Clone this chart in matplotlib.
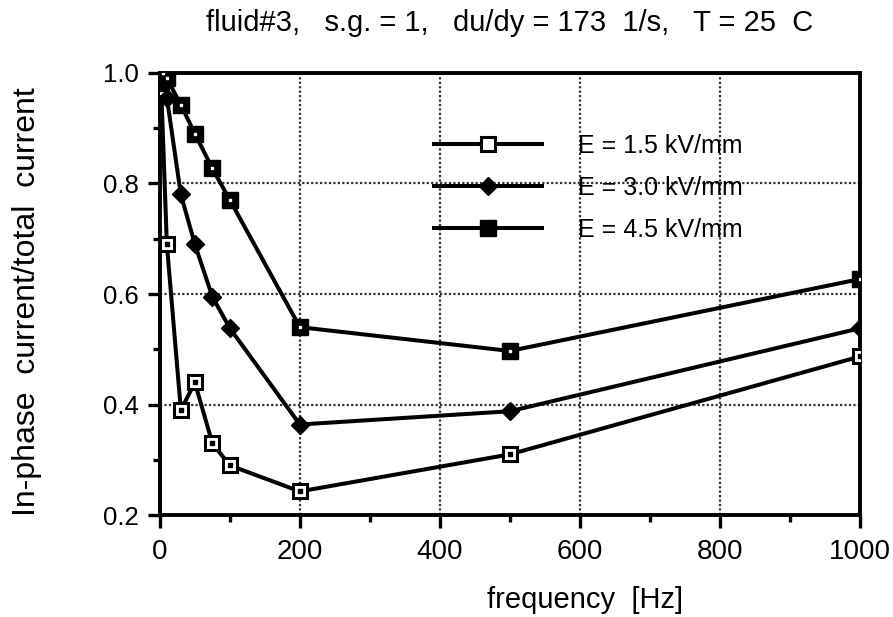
import matplotlib
matplotlib.use("Agg")
import matplotlib.pyplot as plt
from matplotlib.lines import Line2D
from matplotlib.ticker import MultipleLocator, FuncFormatter

plt.rcParams['font.family'] = ['Liberation Sans', 'DejaVu Sans']

# data
freq_15 = [2, 10, 30, 50, 75, 100, 200, 500, 1000]
ratio_15 = [0.97, 0.69, 0.39, 0.44, 0.33, 0.29, 0.243, 0.31, 0.487]
freq_30 = [5, 10, 30, 50, 75, 100, 200, 500, 1000]
ratio_30 = [1.0, 0.955, 0.78, 0.69, 0.595, 0.538, 0.364, 0.388, 0.538]
freq_45 = [5, 10, 30, 50, 75, 100, 200, 500, 1000]
ratio_45 = [1.0, 0.99, 0.942, 0.89, 0.827, 0.77, 0.54, 0.497, 0.627]
labels = ["E = 1.5 kV/mm", "E = 3.0 kV/mm", "E = 4.5 kV/mm"]
title = "fluid#3,   s.g. = 1,   du/dy = 173  1/s,   T = 25  C"
xlabel = "frequency  [Hz]"
ylabel = "In-phase  current/total  current"

fig = plt.figure(figsize=(8.93, 6.17), dpi=100)
ax = fig.add_axes([0.179, 0.165, 0.784, 0.717])

lw = 2.9
ax.plot(freq_15, ratio_15, color='black', lw=lw, marker='s', ms=10, mfc='white',
        mec='black', mew=2.2, zorder=3)
ax.plot(freq_15, ratio_15, ls='none', marker='s', ms=2.5, color='black', zorder=4)
ax.plot(freq_30, ratio_30, color='black', lw=lw, marker='D', ms=9, mfc='black',
        mec='black', zorder=3)
ax.plot(freq_45, ratio_45, color='black', lw=lw, marker='s', ms=11, mfc='black',
        mec='black', zorder=3)
ax.plot(freq_45, ratio_45, ls='none', marker='s', ms=2, color='white', zorder=4)

ax.set_xlim(0, 1000)
ax.set_ylim(0.2, 1.0)
ax.xaxis.set_major_locator(MultipleLocator(200))
ax.xaxis.set_minor_locator(MultipleLocator(100))
ax.yaxis.set_major_locator(MultipleLocator(0.2))
ax.yaxis.set_minor_locator(MultipleLocator(0.1))
ax.xaxis.set_major_formatter(FuncFormatter(lambda v, p: f"{int(round(v))}"))
ax.yaxis.set_major_formatter(FuncFormatter(lambda v, p: f"{v:.1f}"))

ax.grid(True, which='major', ls=(0, (1, 1)), lw=1.6, color='#333333')
for s in ax.spines.values():
    s.set_linewidth(2.8)
ax.tick_params(which='major', direction='out', length=9, width=2.4, pad=7)
ax.tick_params(axis='x', which='major', labelsize=20, pad=8)
ax.tick_params(axis='y', which='major', labelsize=18.5, pad=6)
ax.tick_params(which='minor', direction='out', length=5, width=2.4)

fig.text(510 / 893, 1 - 23 / 617, title, fontsize=21, ha='center', va='center')
fig.text(585 / 893, 1 - 600 / 617, xlabel, fontsize=21, ha='center', va='center')
fig.text(27 / 893, 1 - 302 / 617, ylabel, fontsize=23, ha='center', va='center',
         rotation=90)

handles = [
    Line2D([], [], color='black', lw=lw, marker='s', ms=10, mfc='white', mec='black', mew=2.2),
    Line2D([], [], color='black', lw=lw, marker='D', ms=9, mfc='black', mec='black'),
    Line2D([], [], color='black', lw=lw, marker='s', ms=11, mfc='black', mec='black'),
]
leg = ax.legend(handles, labels, loc='upper left', bbox_to_anchor=(0.378, 0.885),
                frameon=False, fontsize=18, handlelength=4.3, handletextpad=1.45,
                labelspacing=0.72, borderaxespad=0)
leg.set_zorder(5)

fig.savefig("out.png", dpi=100)
